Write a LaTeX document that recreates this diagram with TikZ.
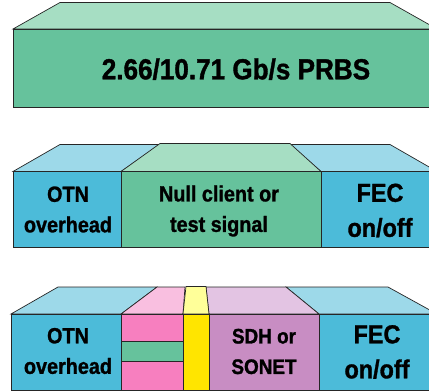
\documentclass[tikz,border=0pt]{standalone}
\usepackage{fontspec}
\setmainfont{Liberation Sans}[FakeStretch=0.9, BoldFeatures={FakeBold=1.2}]
\definecolor{greenfront}{HTML}{66C29C}
\definecolor{greentop}{HTML}{A6DEC3}
\definecolor{bluefront}{HTML}{4CBBD9}
\definecolor{bluetop}{HTML}{9DD9E9}
\definecolor{pinkfront}{HTML}{F77FBF}
\definecolor{pinktop}{HTML}{F9BFE0}
\definecolor{yellowfront}{HTML}{FFE500}
\definecolor{yellowtop}{HTML}{FFFF99}
\definecolor{purplefront}{HTML}{C88DC3}
\definecolor{purpletop}{HTML}{E3C4E3}
\tikzset{
  face/.style={draw=black!85, line width=0.7pt},
  tag/.style={align=center, font=\bfseries\fontsize{#1}{30.5}\selectfont, inner sep=0pt},
  bigtag/.style={align=center, font=\bfseries\fontsize{#1}{35}\selectfont, inner sep=0pt},
}
\begin{document}
\begin{tikzpicture}[x=1pt, y=-1pt]
\clip (0,0) rectangle (429,391);

% top block
\draw[face, fill=greentop] (13,29) -- (60,2.5) -- (390,2.5) -- (437,29) -- cycle;
\draw[face, fill=greenfront] (13,29) rectangle (437,107);
\node[tag=29, anchor=base] (prbs) at (236,79.3) {2.66/10.71 Gb/s PRBS};

% middle block
\draw[face, fill=bluetop] (13,171.5) -- (60,144.5) -- (160,144.5) -- (121,171.5) -- cycle;
\draw[face, fill=bluefront] (13,171.5) rectangle (121,247);
\draw[face, fill=bluetop] (321,171.5) -- (290,144.5) -- (390,144.5) -- (437,171.5) -- cycle;
\draw[face, fill=bluefront] (321,171.5) rectangle (437,247);
\draw[face, fill=greentop] (121,171.5) -- (160,143.5) -- (290,143.5) -- (321,171.5) -- cycle;
\draw[face, fill=greenfront] (121,171.5) rectangle (321,247);

\node[tag=22] (otnA) at (68,209.5) {OTN\\overhead};
\node[tag=22] (nullA) at (219,211) {Null client or\\test signal};
\node[bigtag=26] (fecA) at (380,210.5) {FEC\\on/off};

% bottom block
\draw[face, fill=bluetop] (11,314) -- (58,287) -- (157,287) -- (121,314) -- cycle;
\draw[face, fill=bluefront] (11,314) rectangle (121,390);
\draw[face, fill=bluetop] (319,314) -- (286,287) -- (388,287) -- (437,314) -- cycle;
\draw[face, fill=bluefront] (319,314) rectangle (437,390);
\draw[face, fill=pinktop] (121,314) -- (157,287) -- (185,287) -- (183,314) -- cycle;
\draw[face, fill=pinkfront] (121,314) rectangle (183,390);
\draw[face, fill=greenfront] (121,341) rectangle (183,361);
\draw[face, fill=purpletop] (209,314) -- (206,287) -- (286,287) -- (319,314) -- cycle;
\draw[face, fill=purplefront] (209,314) rectangle (319,390);
\draw[face, fill=yellowtop] (183,314) -- (186,286.5) -- (206,286.5) -- (209,314) -- cycle;
\draw[face, fill=yellowfront] (183,314) rectangle (209,390);

\node[tag=22] (otnB) at (68,351) {OTN\\overhead};
\node[tag=21] (sdhB) at (264,351.5) {SDH or\\SONET};
\node[bigtag=26] (fecB) at (377,352) {FEC\\on/off};

\end{tikzpicture}
\end{document}
